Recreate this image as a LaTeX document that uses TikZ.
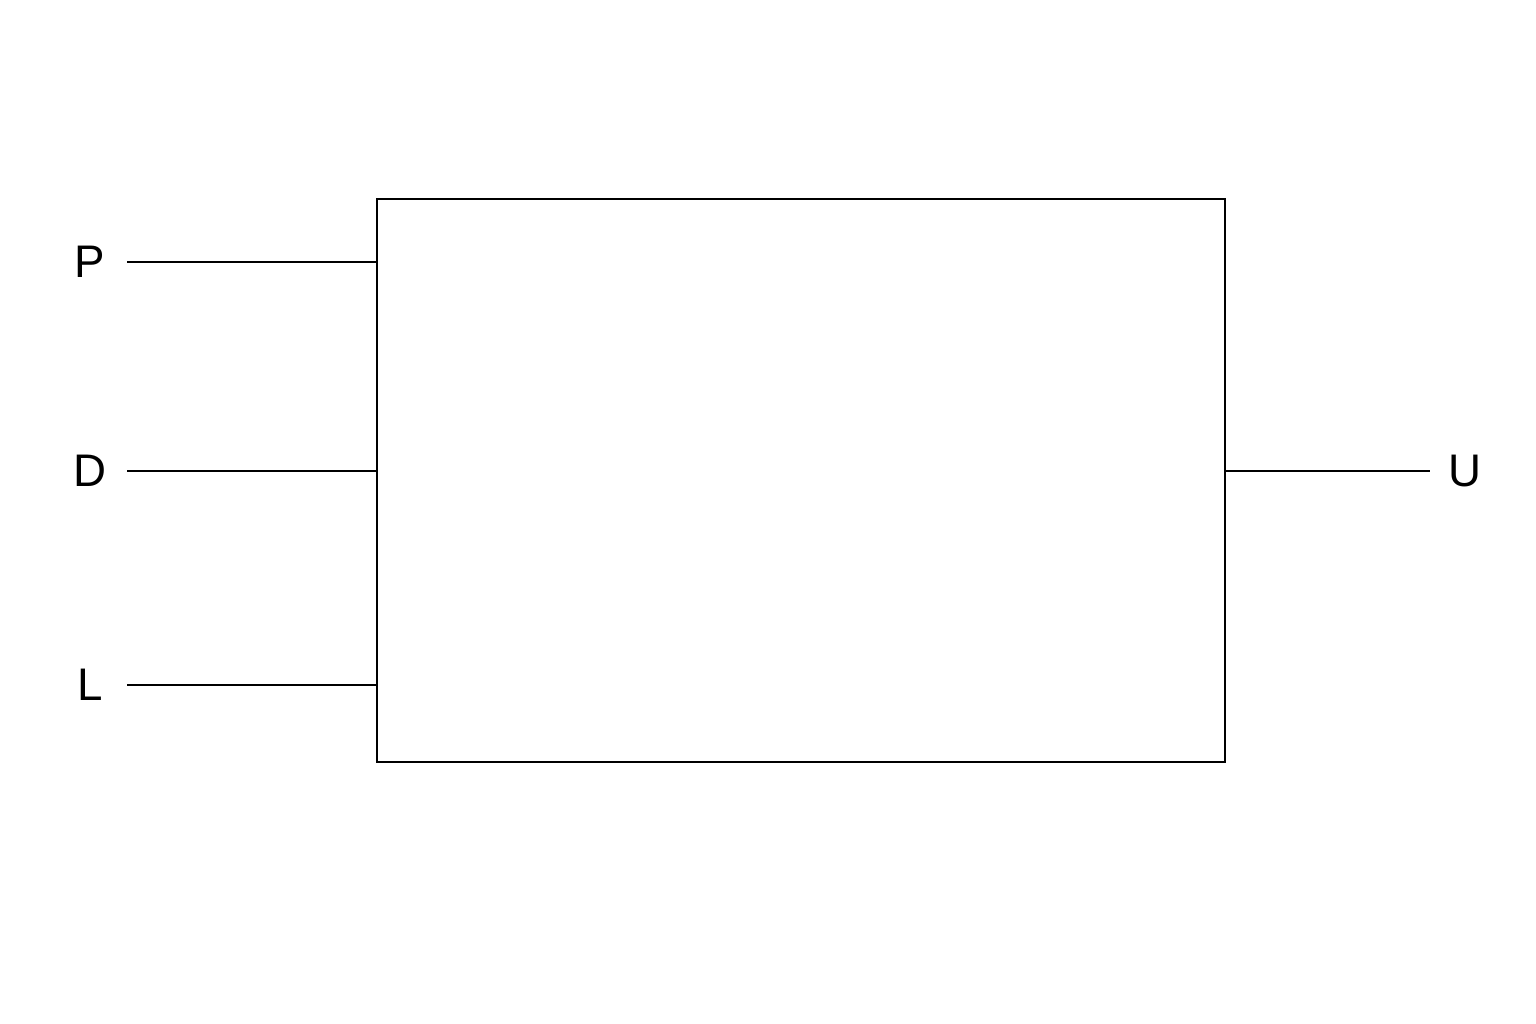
\documentclass[tikz,border=0pt]{standalone}
\usepackage{fontspec}
\setmainfont{Liberation Sans}
\begin{document}
\begin{tikzpicture}[x=0.02cm,y=-0.02cm,
  lbl/.style={font=\fontsize{26}{30}\selectfont, inner sep=0pt},
  wire/.style={line width=1.1pt}]
\fill[white] (0,0) rectangle (1536,1024);
\useasboundingbox (0,0) rectangle (1536,1024);
\node[draw, line width=1.1pt, minimum width=848*0.02cm, minimum height=563*0.02cm, inner sep=0pt, anchor=north west] (box) at (376,198) {};
\node[lbl] (P) at (90,262) {P};
\node[lbl] (D) at (90,471) {D};
\node[lbl] (L) at (90,685) {L};
\node[lbl] (U) at (1465,471) {U};
\coordinate (pin) at (376,262);
\coordinate (din) at (376,471);
\coordinate (lin) at (376,685);
\coordinate (uin) at (1224,471);
\coordinate (pst) at (127,262);
\coordinate (dst) at (127,471);
\coordinate (lst) at (127,685);
\coordinate (uout) at (1430,471);
\draw[wire] (pst) -- (pin);
\draw[wire] (dst) -- (din);
\draw[wire] (lst) -- (lin);
\draw[wire] (uin) -- (uout);
\end{tikzpicture}
\end{document}
